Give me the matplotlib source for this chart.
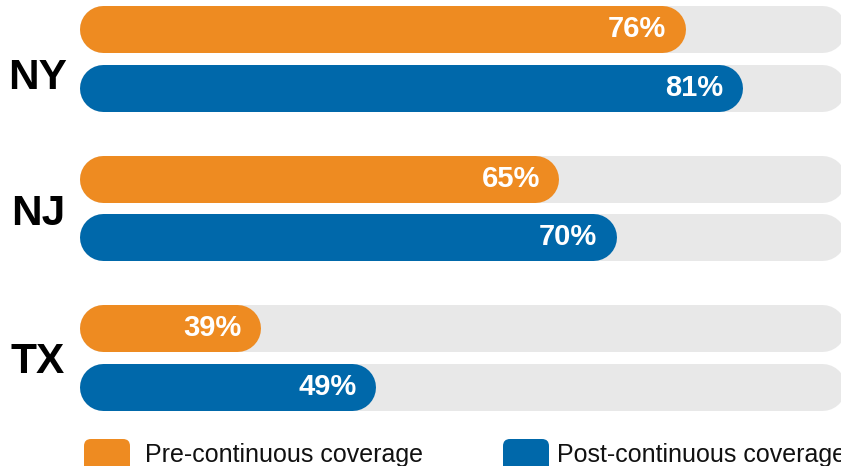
import numpy as np
import matplotlib.pyplot as plt
from matplotlib.patches import FancyBboxPatch
from matplotlib.transforms import IdentityTransform

plt.rcParams.update({
    "font.family": ["Liberation Sans", "DejaVu Sans"],
})

# Data
states = ["NY", "NJ", "TX"]
pre_values = [76, 65, 39]
post_values = [81, 70, 49]
series_names = ["Pre-continuous coverage", "Post-continuous coverage"]

orange = "#ee8b21"
blue = "#0068aa"
track = "#e8e8e8"

W, H, dpi = 841, 466, 100
fig = plt.figure(figsize=(W / dpi, H / dpi), dpi=dpi)
ax = fig.add_axes([0, 0, 1, 1])
ax.axis("off")

# value axis: bars start at a base value, grey track runs to 90
base, track_end = 23.2, 90.0
ax.set_xlim(16.27, 89.59)
ax.set_ylim(2.726, -0.391)

px_per_unit = W / (89.59 - 16.27)
bar_px = 47
r = bar_px / 2 / px_per_unit          # round cap radius in data units
lw = bar_px * 72 / dpi                # line width in points

offset = 0.195
y = np.arange(len(states))
label_nudge = [-20, -6, -5]           # pixels, state labels sit a little low


def pill(x0, x1, yc, color, z):
    ax.plot([x0 + r, x1 - r], [yc, yc], color=color, lw=lw,
            solid_capstyle="round", zorder=z)


for i, st in enumerate(states):
    for vals, col, dy in [(pre_values, orange, -offset), (post_values, blue, offset)]:
        yc = y[i] + dy
        pill(base, track_end, yc, track, 1)
        pill(base, vals[i], yc, col, 2)
        ax.annotate(f"{vals[i]}%", (vals[i], yc), xytext=(-19, 0),
                    textcoords="offset pixels", ha="right", va="center",
                    color="white", fontsize=21, fontweight="bold", zorder=3)
    ax.annotate(st, (0.045, y[i]), xycoords=ax.get_yaxis_transform(),
                xytext=(0, label_nudge[i]), textcoords="offset pixels",
                ha="center", va="center", fontsize=30.5, fontweight="bold", color="black")

# legend at the bottom
for name, col, sx, tx in [(series_names[0], orange, 84, 145),
                          (series_names[1], blue, 503, 557)]:
    sq = FancyBboxPatch((sx, -19), 46, 46, boxstyle="round,pad=0,rounding_size=7",
                        facecolor=col, edgecolor="none", transform=IdentityTransform())
    fig.add_artist(sq)
    fig.text(tx / W, 4 / H, name, fontsize=18, color="#111111", ha="left", va="baseline")

fig.savefig("out.png", dpi=dpi)
